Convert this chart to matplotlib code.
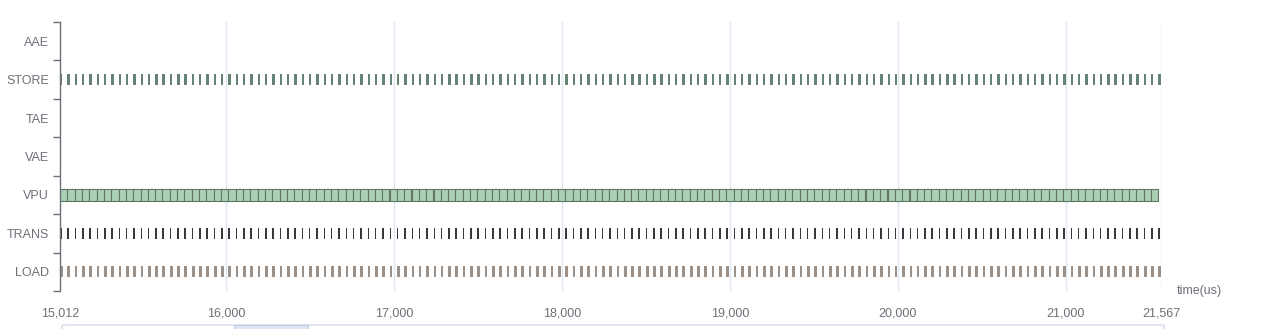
import matplotlib
matplotlib.use("Agg")
import matplotlib.pyplot as plt
from matplotlib.patches import FancyBboxPatch, Rectangle

plt.rcParams['font.family'] = ['Liberation Sans', 'DejaVu Sans']

# ---- data ----
categories = ["AAE", "STORE", "TAE", "VAE", "VPU", "TRANS", "LOAD"]
x_min, x_max = 15012, 21567
x_ticks = [15012, 16000, 17000, 18000, 19000, 20000, 21000, 21567]
x_tick_labels = ["15,012", "16,000", "17,000", "18,000", "19,000", "20,000", "21,000", "21,567"]

# start times (us) of the repeating task cycles
cycle_starts = [
    15012, 15056, 15099, 15143, 15186, 15230, 15274, 15317, 15361, 15404,
    15448, 15492, 15535, 15579, 15622, 15666, 15710, 15753, 15797, 15840,
    15884, 15928, 15971, 16015, 16058, 16102, 16146, 16189, 16233, 16276,
    16320, 16364, 16407, 16451, 16494, 16538, 16582, 16625, 16669, 16712,
    16756, 16800, 16843, 16887, 16930, 16974, 17018, 17061, 17105, 17148,
    17192, 17236, 17279, 17323, 17366, 17410, 17454, 17497, 17541, 17584,
    17628, 17672, 17715, 17759, 17802, 17846, 17890, 17933, 17977, 18020,
    18064, 18108, 18151, 18195, 18238, 18282, 18326, 18369, 18413, 18456,
    18500, 18544, 18587, 18631, 18674, 18718, 18762, 18805, 18849, 18892,
    18936, 18980, 19023, 19067, 19110, 19154, 19198, 19241, 19285, 19328,
    19372, 19416, 19459, 19503, 19546, 19590, 19634, 19677, 19721, 19764,
    19808, 19852, 19895, 19939, 19982, 20026, 20070, 20113, 20157, 20200,
    20244, 20288, 20331, 20375, 20418, 20462, 20506, 20549, 20593, 20636,
    20680, 20724, 20767, 20811, 20854, 20898, 20942, 20985, 21029, 21072,
    21116, 21160, 21203, 21247, 21290, 21334, 21378, 21421, 21465, 21508,
    21552,
]
vpu_starts = cycle_starts[:-1]
vpu_duration = 43.6
store_starts = cycle_starts
store_duration = 14
trans_starts = cycle_starts
trans_duration = 9
load_starts = cycle_starts
load_duration = 16

# ---- figure ----
W, H = 1263, 329
fig = plt.figure(figsize=(W / 100, H / 100), dpi=100)
ax_left, ax_right, ax_top, ax_bot = 60, 1161, 22, 291
ax = fig.add_axes([ax_left / W, (H - ax_bot) / H, (ax_right - ax_left) / W, (ax_bot - ax_top) / H])

ax.set_xlim(x_min, x_max)
n = len(categories)
ax.set_ylim(n - 0.5, -0.5)

axis_col = "#6e7079"
text_col = "#6e7079"
grid_col = "#e0e6f1"

bar_h = 0.29

def row(name):
    return categories.index(name)

ax.broken_barh([(s, vpu_duration) for s in vpu_starts], (row("VPU") - bar_h / 2, bar_h),
               facecolors="#abcfb5", edgecolors="#5f7667", linewidth=0.8, zorder=3)
ax.broken_barh([(s, store_duration) for s in store_starts], (row("STORE") - bar_h / 2, bar_h),
               facecolors="#5e7b6e", edgecolors="none", zorder=3, alpha=0.95)
ax.broken_barh([(s, trans_duration) for s in trans_starts], (row("TRANS") - bar_h / 2, bar_h),
               facecolors="#3a3a3a", edgecolors="none", zorder=3)
ax.broken_barh([(s, load_duration) for s in load_starts], (row("LOAD") - bar_h / 2, bar_h),
               facecolors="#9b9189", edgecolors="none", zorder=3)

# grid
for xt in x_ticks[1:]:
    ax.axvline(xt, color=grid_col, linewidth=1, zorder=1)

# spines
for s in ["top", "right", "bottom"]:
    ax.spines[s].set_visible(False)
ax.spines["left"].set_color(axis_col)
ax.spines["left"].set_linewidth(1)
ax.spines["left"].set_zorder(4)

fs = 9
ax.set_xticks(x_ticks)
ax.set_xticklabels(x_tick_labels)
ax.tick_params(axis="x", length=0, pad=12, labelsize=fs, colors=text_col)

ax.set_yticks(range(n))
ax.set_yticklabels(categories)
ax.set_yticks([i - 0.5 for i in range(n + 1)], minor=True)
ax.tick_params(axis="y", which="major", length=0, pad=8, labelsize=fs, colors=text_col)
ax.tick_params(axis="y", which="minor", length=5, width=1, color=axis_col)

fig.text(1177 / W, (H - 291) / H, "time(us)", fontsize=fs, color=text_col, ha="left", va="center")

# data zoom slider (partially visible at bottom)
slider = FancyBboxPatch((62 / W, (H - 345) / H), (1164 - 62) / W, 20 / H,
                        boxstyle="round,pad=0,rounding_size=0.003", transform=fig.transFigure,
                        facecolor="none", edgecolor="#d2dbee", linewidth=1, figure=fig)
fig.patches.append(slider)
sel = Rectangle((234 / W, (H - 345) / H), (308 - 234) / W, 20 / H, transform=fig.transFigure,
                facecolor="#d8e1f3", edgecolor="#b9c6e0", linewidth=0.8, alpha=0.8, figure=fig)
fig.patches.append(sel)

fig.savefig("out.png", dpi=100)
